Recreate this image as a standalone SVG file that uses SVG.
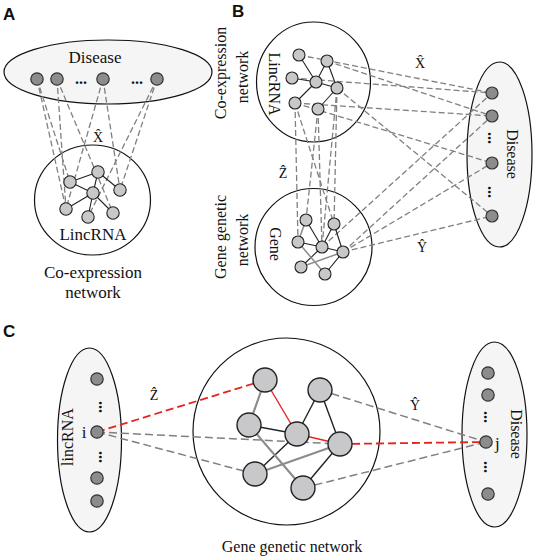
<svg xmlns="http://www.w3.org/2000/svg" width="536" height="559" viewBox="0 0 536 559">
<style>
.dash{stroke:#808080;stroke-width:1.3;stroke-dasharray:6 3;fill:none}
.dashc{stroke:#808080;stroke-width:1.5;stroke-dasharray:8 4;fill:none}
.reddash{stroke:#e8231f;stroke-width:1.8;stroke-dasharray:8 4;fill:none}
.edge{stroke:#222;stroke-width:1.1}
.edgec{stroke:#222;stroke-width:1.4}
.edgeg{stroke:#8c8c8c;stroke-width:1.5}
.edgegc{stroke:#8c8c8c;stroke-width:2.2}
.edger{stroke:#e8231f;stroke-width:1.4}
.dot{fill:#8c8c8c;stroke:#333;stroke-width:1.2}
.node{fill:#c8c8ca;stroke:#222;stroke-width:1.1}
.nodec{fill:#c8c8ca;stroke:#222;stroke-width:1.4}
.cont{fill:#f5f5f5;stroke:#111;stroke-width:1.2}
.circ{fill:none;stroke:#111;stroke-width:1.2}
.t{font-family:"Liberation Serif","Times New Roman",serif;fill:#111;font-size:16px}
.ta{font-size:17px}
.h{font-size:14px}
.el{font-family:"Liberation Serif","Times New Roman",serif;fill:#111;font-size:16px;font-weight:bold}
.lab{font-family:"Liberation Sans",Arial,sans-serif;font-weight:bold;font-size:17px;fill:#111}
</style>
<rect width="536" height="559" fill="#fff"/>

<!-- Panel labels -->
<text class="lab" x="3" y="20">A</text>
<text class="lab" x="232" y="17">B</text>
<text class="lab" x="3" y="337">C</text>

<!-- ===== Containers ===== -->
<g id="A-disease-set"><ellipse class="cont" cx="108" cy="72" rx="104" ry="32"/><text class="t ta" x="95" y="63" text-anchor="middle">Disease</text></g>
<g id="A-lincrna-net"><ellipse class="circ" cx="92.5" cy="200" rx="58" ry="55"/></g>
<g id="B-lincrna-net"><ellipse class="circ" cx="313.5" cy="82" rx="57" ry="60"/></g>
<g id="B-gene-net"><circle class="circ" cx="313.5" cy="247" r="58.5"/></g>
<g id="B-disease-set"><ellipse class="cont" cx="499.5" cy="154.5" rx="32.5" ry="92.5"/></g>
<g id="C-lincrna-set"><ellipse class="cont" cx="89.5" cy="440" rx="32" ry="92"/></g>
<g id="C-gene-net"><circle class="circ" cx="286.5" cy="431.5" r="93.5"/></g>
<g id="C-disease-set"><ellipse class="cont" cx="494.5" cy="434.5" rx="32.5" ry="92.5"/></g>

<!-- ===== Connectors ===== -->
<g id="connectors">
  <!-- A: disease to lincRNA -->
  <line class="dash" x1="37" y1="79" x2="70" y2="182"/>
  <line class="dash" x1="37" y1="79" x2="66" y2="209"/>
  <line class="dash" x1="57" y1="79" x2="66" y2="209"/>
  <line class="dash" x1="57" y1="79" x2="113" y2="213"/>
  <line class="dash" x1="103" y1="79" x2="66" y2="209"/>
  <line class="dash" x1="103" y1="79" x2="120" y2="190"/>
  <line class="dash" x1="157" y1="79" x2="120" y2="190"/>
  <line class="dash" x1="157" y1="79" x2="88" y2="217"/>
  <!-- A: network edges -->
  <line class="edge" x1="70" y1="182" x2="98" y2="172"/>
  <line class="edge" x1="70" y1="182" x2="93" y2="193"/>
  <line class="edge" x1="98" y1="172" x2="93" y2="193"/>
  <line class="edge" x1="98" y1="172" x2="120" y2="190"/>
  <line class="edge" x1="93" y1="193" x2="66" y2="209"/>
  <line class="edge" x1="93" y1="193" x2="88" y2="217"/>
  <line class="edge" x1="93" y1="193" x2="113" y2="213"/>

  <!-- B: lincRNA to disease (X) -->
  <line class="dash" x1="299" y1="55" x2="492" y2="93"/>
  <line class="dash" x1="327" y1="61" x2="492" y2="116"/>
  <line class="dash" x1="292" y1="78" x2="492" y2="93"/>
  <line class="dash" x1="295" y1="103" x2="492" y2="116"/>
  <line class="dash" x1="295" y1="103" x2="492" y2="163"/>
  <line class="dash" x1="337" y1="88" x2="492" y2="216"/>
  <!-- B: gene to disease (Y) -->
  <line class="dash" x1="322" y1="247" x2="492" y2="93"/>
  <line class="dash" x1="343" y1="252" x2="492" y2="116"/>
  <line class="dash" x1="343" y1="252" x2="492" y2="163"/>
  <line class="dash" x1="343" y1="252" x2="492" y2="216"/>
  <!-- B: lincRNA to gene (Z) -->
  <line class="dash" x1="295" y1="103" x2="298" y2="242"/>
  <line class="dash" x1="295" y1="103" x2="334" y2="224"/>
  <line class="dash" x1="318" y1="109" x2="322" y2="247"/>
  <line class="dash" x1="318" y1="109" x2="306" y2="220"/>
  <line class="dash" x1="337" y1="88" x2="334" y2="224"/>
  <line class="dash" x1="337" y1="88" x2="322" y2="247"/>
  <!-- B: lincRNA network edges -->
  <line class="edge" x1="299" y1="55" x2="316" y2="82"/>
  <line class="edge" x1="327" y1="61" x2="316" y2="82"/>
  <line class="edge" x1="327" y1="61" x2="337" y2="88"/>
  <line class="edge" x1="292" y1="78" x2="316" y2="82"/>
  <line class="edge" x1="316" y1="82" x2="295" y2="103"/>
  <line class="edge" x1="316" y1="82" x2="337" y2="88"/>
  <line class="edge" x1="337" y1="88" x2="318" y2="109"/>
  <!-- B: gene network edges -->
  <line class="edgeg" x1="306" y1="220" x2="298" y2="242"/>
  <line class="edge" x1="306" y1="220" x2="322" y2="247"/>
  <line class="edge" x1="298" y1="242" x2="322" y2="247"/>
  <line class="edge" x1="322" y1="247" x2="334" y2="224"/>
  <line class="edge" x1="334" y1="224" x2="343" y2="252"/>
  <line class="edge" x1="322" y1="247" x2="343" y2="252"/>
  <line class="edge" x1="322" y1="247" x2="301" y2="267"/>
  <line class="edgeg" x1="298" y1="242" x2="325" y2="274"/>
  <line class="edgeg" x1="301" y1="267" x2="343" y2="252"/>
  <line class="edge" x1="343" y1="252" x2="325" y2="274"/>

  <!-- C: lincRNA i to genes -->
  <line class="reddash" x1="97" y1="432" x2="265" y2="380"/>
  <line class="dashc" x1="97" y1="432" x2="340" y2="444"/>
  <line class="dashc" x1="97" y1="432" x2="255" y2="474"/>
  <!-- C: genes to disease j -->
  <line class="dashc" x1="320" y1="390" x2="486" y2="442"/>
  <line class="reddash" x1="340" y1="444" x2="486" y2="442"/>
  <line class="dashc" x1="303" y1="488" x2="486" y2="442"/>
  <!-- C: gene network edges -->
  <line class="edgegc" x1="265" y1="380" x2="249" y2="425"/>
  <line class="edger" x1="265" y1="380" x2="297" y2="434"/>
  <line class="edgec" x1="249" y1="425" x2="297" y2="434"/>
  <line class="edgec" x1="297" y1="434" x2="320" y2="390"/>
  <line class="edgec" x1="320" y1="390" x2="340" y2="444"/>
  <line class="edger" x1="297" y1="434" x2="340" y2="444"/>
  <line class="edgec" x1="297" y1="434" x2="255" y2="474"/>
  <line class="edgegc" x1="249" y1="425" x2="303" y2="488"/>
  <line class="edgegc" x1="255" y1="474" x2="340" y2="444"/>
  <line class="edgec" x1="340" y1="444" x2="303" y2="488"/>
</g>

<!-- ===== Nodes ===== -->
<!-- A disease dots -->
<g id="A-d1"><circle class="dot" cx="37" cy="79" r="6.2"/></g>
<g id="A-d2"><circle class="dot" cx="57" cy="79" r="6.2"/></g>
<g id="A-d3"><circle class="dot" cx="103" cy="79" r="6.2"/></g>
<g id="A-d4"><circle class="dot" cx="157" cy="79" r="6.2"/></g>
<text class="el" x="81" y="84" text-anchor="middle">...</text>
<text class="el" x="137" y="84" text-anchor="middle">...</text>
<!-- A lincRNA nodes -->
<g id="A-l1"><circle class="node" cx="70" cy="182" r="6.2"/></g>
<g id="A-l2"><circle class="node" cx="98" cy="172" r="6.2"/></g>
<g id="A-l3"><circle class="node" cx="93" cy="193" r="6.2"/></g>
<g id="A-l4"><circle class="node" cx="120" cy="190" r="6.2"/></g>
<g id="A-l5"><circle class="node" cx="66" cy="209" r="6.2"/></g>
<g id="A-l6"><circle class="node" cx="88" cy="217" r="6.2"/></g>
<g id="A-l7"><circle class="node" cx="113" cy="213" r="6.2"/></g>
<text class="t ta" x="93" y="240" text-anchor="middle">LincRNA</text>
<text class="t ta" x="93" y="278" text-anchor="middle">Co-expression</text>
<text class="t ta" x="93" y="298" text-anchor="middle">network</text>
<text class="t h" x="98" y="142" text-anchor="middle">X̂</text>

<!-- B lincRNA nodes -->
<g id="B-l1"><circle class="node" cx="299" cy="55" r="6"/></g>
<g id="B-l2"><circle class="node" cx="327" cy="61" r="6"/></g>
<g id="B-l3"><circle class="node" cx="292" cy="78" r="6"/></g>
<g id="B-l4"><circle class="node" cx="316" cy="82" r="6"/></g>
<g id="B-l5"><circle class="node" cx="337" cy="88" r="6"/></g>
<g id="B-l6"><circle class="node" cx="295" cy="103" r="6"/></g>
<g id="B-l7"><circle class="node" cx="318" cy="109" r="6"/></g>
<!-- B gene nodes -->
<g id="B-g1"><circle class="node" cx="306" cy="220" r="6"/></g>
<g id="B-g2"><circle class="node" cx="334" cy="224" r="6"/></g>
<g id="B-g3"><circle class="node" cx="298" cy="242" r="6"/></g>
<g id="B-g4"><circle class="node" cx="322" cy="247" r="6"/></g>
<g id="B-g5"><circle class="node" cx="343" cy="252" r="6"/></g>
<g id="B-g6"><circle class="node" cx="301" cy="267" r="6"/></g>
<g id="B-g7"><circle class="node" cx="325" cy="274" r="6"/></g>
<!-- B disease dots -->
<g id="B-d1"><circle class="dot" cx="492" cy="93" r="6"/></g>
<g id="B-d2"><circle class="dot" cx="492" cy="116" r="6"/></g>
<g id="B-d3"><circle class="dot" cx="492" cy="163" r="6"/></g>
<g id="B-d4"><circle class="dot" cx="492" cy="216" r="6"/></g>
<text class="el" transform="translate(489,138) rotate(90)" y="1" text-anchor="middle">...</text>
<text class="el" transform="translate(489,192) rotate(90)" y="1" text-anchor="middle">...</text>
<!-- B labels -->
<text class="t" transform="translate(269,84) rotate(90)" text-anchor="middle">LincRNA</text>
<text class="t" transform="translate(270,244) rotate(90)" text-anchor="middle">Gene</text>
<text class="t" transform="translate(507,154) rotate(90)" text-anchor="middle">Disease</text>
<text class="t" transform="translate(226,73) rotate(-90)" text-anchor="middle">Co-expression</text>
<text class="t" transform="translate(248,77) rotate(-90)" text-anchor="middle">network</text>
<text class="t" transform="translate(226,237) rotate(-90)" text-anchor="middle">Gene genetic</text>
<text class="t" transform="translate(248,240) rotate(-90)" text-anchor="middle">network</text>
<text class="t h" x="420" y="68" text-anchor="middle">X̂</text>
<text class="t h" x="422" y="252" text-anchor="middle">Ŷ</text>
<text class="t h" x="283" y="178" text-anchor="middle">Ẑ</text>

<!-- C lincRNA dots -->
<g id="C-l1"><circle class="dot" cx="97" cy="379" r="6.2"/></g>
<g id="C-li"><circle class="dot" cx="97" cy="432" r="6.2"/><text class="t ta" x="84" y="438" text-anchor="middle">i</text></g>
<g id="C-l3"><circle class="dot" cx="97" cy="478" r="6.2"/></g>
<g id="C-l4"><circle class="dot" cx="97" cy="501" r="6.2"/></g>
<text class="el" transform="translate(100,407) rotate(90)" y="1" text-anchor="middle">...</text>
<text class="el" transform="translate(100,457) rotate(90)" y="1" text-anchor="middle">...</text>
<text class="t" transform="translate(73,437) rotate(-90)" text-anchor="middle">lincRNA</text>
<text class="t h" x="154" y="400" text-anchor="middle">Ẑ</text>
<!-- C gene nodes -->
<g id="C-g1"><circle class="nodec" cx="265" cy="380" r="12"/></g>
<g id="C-g2"><circle class="nodec" cx="320" cy="390" r="12"/></g>
<g id="C-g3"><circle class="nodec" cx="249" cy="425" r="12"/></g>
<g id="C-g4"><circle class="nodec" cx="297" cy="434" r="12"/></g>
<g id="C-g5"><circle class="nodec" cx="340" cy="444" r="12"/></g>
<g id="C-g6"><circle class="nodec" cx="255" cy="474" r="12"/></g>
<g id="C-g7"><circle class="nodec" cx="303" cy="488" r="12"/></g>
<text class="t" x="292" y="552" text-anchor="middle">Gene genetic network</text>
<!-- C disease dots -->
<g id="C-d1"><circle class="dot" cx="488" cy="373" r="6.2"/></g>
<g id="C-d2"><circle class="dot" cx="488" cy="395" r="6.2"/></g>
<g id="C-dj"><circle class="dot" cx="486" cy="442" r="6.2"/><text class="t ta" x="495" y="449">j</text></g>
<g id="C-d4"><circle class="dot" cx="488" cy="494" r="6.2"/></g>
<text class="el" transform="translate(485,417) rotate(90)" y="1" text-anchor="middle">...</text>
<text class="el" transform="translate(485,467) rotate(90)" y="1" text-anchor="middle">...</text>
<text class="t" transform="translate(511,434) rotate(90)" text-anchor="middle">Disease</text>
<text class="t h" x="415" y="410" text-anchor="middle">Ŷ</text>
</svg>
